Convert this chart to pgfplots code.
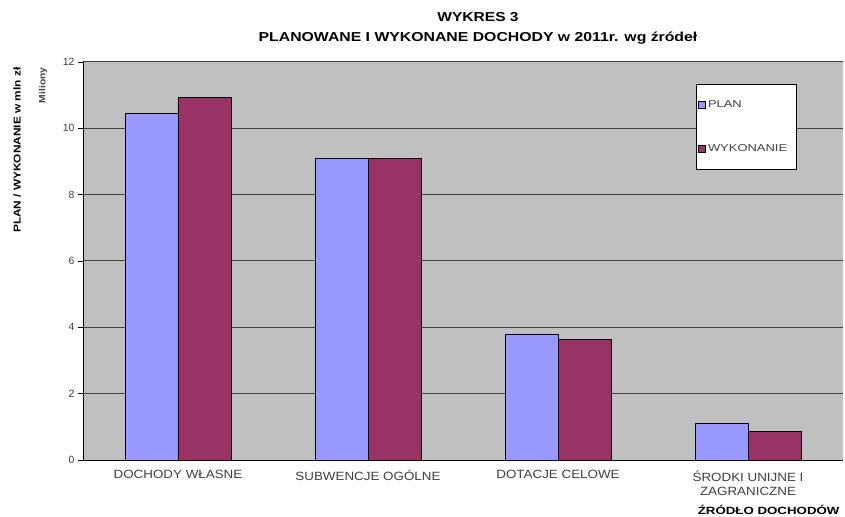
\documentclass[border=0pt]{standalone}
\usepackage{pgfplots}
\pgfplotsset{compat=1.18}
\usepackage{fontspec}
\setmainfont{Liberation Sans}
\definecolor{planc}{HTML}{9999FF}
\definecolor{wykc}{HTML}{993366}
\definecolor{bgc}{HTML}{C0C0C0}
\definecolor{txt}{HTML}{404040}
\newcommand{\sx}[1]{\scalebox{1.12}[1]{#1}}
\newcommand{\lx}[1]{\makebox[84bp][l]{\scalebox{1.3}[1]{#1}}}
\begin{document}
\begin{tikzpicture}[x=1bp,y=1bp]
\useasboundingbox (-83bp,-57bp) rectangle (762bp,460bp);
\begin{axis}[
  scale only axis,
  width=760bp, height=398bp,
  anchor=south west, at={(0,0)},
  ybar=0pt, bar width=53bp,
  xmin=-0.5, xmax=3.5,
  ymin=0, ymax=12,
  ytick={0,2,...,12},
  xtick={0,1,2,3},
  xticklabels={\sx{DOCHODY WŁASNE},\sx{SUBWENCJE OGÓLNE},\sx{DOTACJE CELOWE},{\sx{ŚRODKI UNIJNE I}\\\sx{ZAGRANICZNE}}},
  x tick label style={align=center, font=\fontsize{12}{14}\selectfont, text=txt, yshift=-2bp},
  y tick label style={font=\fontsize{10.5}{12}\selectfont, text=txt},
  /pgf/number format/assume math mode=true,
  major x tick style={draw=none},
  extra x ticks={-0.5,0.5,1.5,2.5,3.5},
  extra x tick labels={},
  extra x tick style={major tick length=5bp, tick style={draw=black, thick}, grid=none},
  tick align=outside,
  major tick length=5bp,
  ytick style={draw=black, thick},
  axis x line*=bottom, axis y line*=left,
  axis line style={draw=black, thick, -},
  axis background/.style={fill=bgc},
  ymajorgrids,
  grid style={draw=black!75, line width=1bp},
  legend style={draw=black, thick, fill=white, at={(0.8066,0.9446)}, anchor=north west,
    font=\fontsize{10}{11}\selectfont, text=txt, row sep=32bp, inner xsep=2bp, inner ysep=14bp,
    cells={anchor=west}},
  legend image code/.code={\draw[#1, draw=black, line width=0.6bp] (0bp,-3.5bp) rectangle (7bp,3.5bp);},
  clip=false,
]
\addplot[fill=planc, draw=black, line width=0.9bp] coordinates {(0,10.46) (1,9.10) (2,3.80) (3,1.09)};
\addplot[fill=wykc, draw=black, line width=0.9bp] coordinates {(0,10.94) (1,9.10) (2,3.62) (3,0.87)};
\legend{\lx{PLAN},\lx{WYKONANIE}}
\end{axis}
\node[font=\bfseries\fontsize{13}{15}\selectfont, anchor=base] at (395bp,438bp) {\scalebox{1.2}[1]{WYKRES 3}};
\node[font=\bfseries\fontsize{13}{15}\selectfont, anchor=base] at (395bp,418bp) {\scalebox{1.22}[1]{PLANOWANE I WYKONANE DOCHODY w 2011r. wg źródeł}};
\node[font=\bfseries\fontsize{10}{12}\selectfont, rotate=90, anchor=east] at (-66bp,396bp) {\scalebox{1.19}[1]{PLAN / WYKONANIE w mln zł}};
\node[font=\bfseries\fontsize{9}{11}\selectfont, rotate=90, anchor=east, text=txt] at (-40bp,396bp) {\scalebox{1.15}[1]{Miliony}};
\node[font=\bfseries\fontsize{10.5}{12}\selectfont, anchor=base east] at (760bp,-54bp) {\scalebox{1.27}[1]{ŹRÓDŁO DOCHODÓW}};
\end{tikzpicture}
\end{document}
